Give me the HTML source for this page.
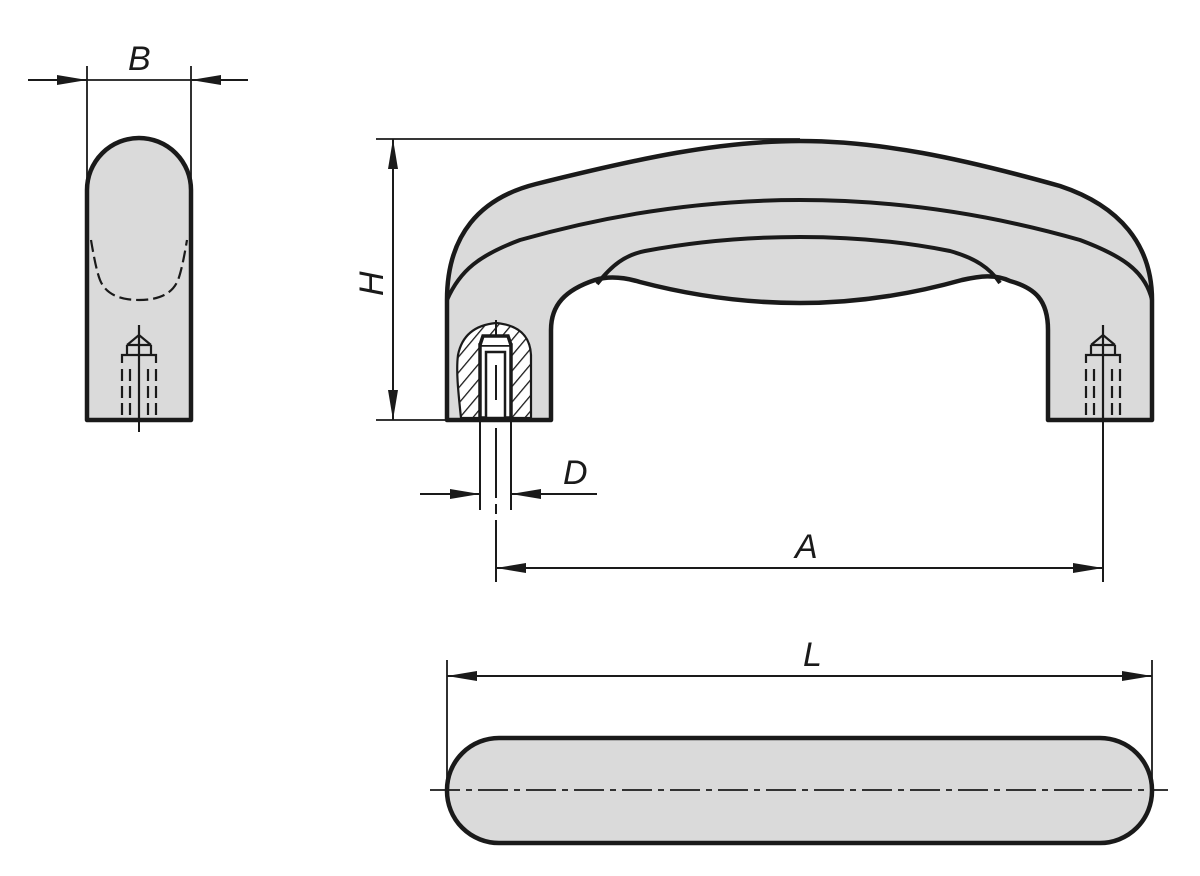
<!DOCTYPE html>
<html><head><meta charset="utf-8"><style>
html,body{margin:0;padding:0;background:#fff}
svg{display:block}
text{font-family:"Liberation Sans",sans-serif;font-style:italic;font-size:34px;fill:#1a1a1a}
</style></head><body>
<svg width="1200" height="876" viewBox="0 0 1200 876" xmlns="http://www.w3.org/2000/svg">
<defs>
<marker id="ar" viewBox="0 0 30 10" refX="30" refY="5" markerWidth="30" markerHeight="10" markerUnits="userSpaceOnUse" orient="auto-start-reverse">
<path d="M0,0 L30,5 L0,10 Z" fill="#1a1a1a"/></marker>
<pattern id="hatch" width="10" height="10" patternUnits="userSpaceOnUse" patternTransform="rotate(40)">
<rect width="10" height="10" fill="#fff"/><line x1="0" y1="0" x2="0" y2="10" stroke="#1a1a1a" stroke-width="2.6"/></pattern>
<g id="thr" fill="none" stroke="#1a1a1a" stroke-width="2.2">
<line x1="0" y1="0" x2="0" y2="95"/>
<path d="M-12,20 L0,10 L12,20 M-12,20 L12,20 M-12,20 V30 M12,20 V30"/>
<path d="M-17,38 V30 H17 V38"/>
<line x1="-17" y1="44" x2="-17" y2="95" stroke-dasharray="12 5"/>
<line x1="17" y1="44" x2="17" y2="95" stroke-dasharray="12 5"/>
<line x1="-9" y1="44" x2="-9" y2="95" stroke-dasharray="12 5"/>
<line x1="9" y1="44" x2="9" y2="95" stroke-dasharray="12 5"/>
</g>
</defs>

<!-- side view -->
<path d="M87,420 V190 A52,52 0 0 1 191,190 V420 Z" fill="#dadada" stroke="#1a1a1a" stroke-width="4.5" stroke-linejoin="round"/>
<path d="M91,240 Q96,270 100,280 Q108,300 139,300 Q170,300 178,280 Q182,270 187,240" fill="none" stroke="#1a1a1a" stroke-width="2.2" stroke-dasharray="12 5"/>
<use href="#thr" x="139" y="325"/>
<line x1="139" y1="418" x2="139" y2="432" stroke="#1a1a1a" stroke-width="2"/>
<line x1="87" y1="66" x2="87" y2="190" stroke="#1a1a1a" stroke-width="1.8"/>
<line x1="191" y1="66" x2="191" y2="190" stroke="#1a1a1a" stroke-width="1.8"/>
<line x1="28" y1="80" x2="87" y2="80" stroke="#1a1a1a" stroke-width="2" marker-end="url(#ar)"/>
<line x1="248" y1="80" x2="191" y2="80" stroke="#1a1a1a" stroke-width="2" marker-end="url(#ar)"/>
<line x1="87" y1="80" x2="191" y2="80" stroke="#1a1a1a" stroke-width="1.8"/>
<text x="128" y="70">B</text>

<!-- main handle -->
<path d="M447,420 V300 C447,235 480,198 536,184 C640,158 720,141 800,141 C880,141 960,158 1060,186 C1120,206 1152,245 1152,300 V420 H1048 V330 C1048,300 1035,288 1010,281 C995,274 980,276 962,280 Q880,303 800,303 Q720,303 640,282 C620,276 605,277 595,280 C565,290 551,305 551,330 V420 Z" fill="#dadada" stroke="#1a1a1a" stroke-width="4.5" stroke-linejoin="round"/>
<path d="M447,300 C460,270 480,255 520,240 Q660,200 800,200 Q940,200 1080,240 C1120,255 1145,270 1152,300" fill="none" stroke="#1a1a1a" stroke-width="4"/>
<path d="M597,284 C612,265 625,255 645,251 Q720,237 800,237 Q880,237 950,251 C975,258 990,268 1000,283" fill="none" stroke="#1a1a1a" stroke-width="4"/>
<!-- section -->
<path d="M461,418 C458,390 456,370 458,355 C462,335 475,325 496,323 C518,325 530,335 531,355 V418 Z" fill="url(#hatch)" stroke="#1a1a1a" stroke-width="2.2"/>
<rect x="480" y="345" width="31" height="73" fill="#fff" stroke="#1a1a1a" stroke-width="3.5"/>
<path d="M480,345 L483,336 H508 L511,345" fill="#fff" stroke="#1a1a1a" stroke-width="3.5"/>
<rect x="486" y="352" width="19" height="66" fill="#fff" stroke="#1a1a1a" stroke-width="2.5"/>
<line x1="496" y1="320" x2="496" y2="336" stroke="#1a1a1a" stroke-width="2"/>
<line x1="496" y1="365" x2="496" y2="400" stroke="#1a1a1a" stroke-width="2"/>
<line x1="496" y1="428" x2="496" y2="582" stroke="#1a1a1a" stroke-width="2" stroke-dasharray="70 6 10 6"/>
<line x1="480" y1="420" x2="480" y2="510" stroke="#1a1a1a" stroke-width="2"/>
<line x1="511" y1="420" x2="511" y2="510" stroke="#1a1a1a" stroke-width="2"/>
<line x1="420" y1="494" x2="480" y2="494" stroke="#1a1a1a" stroke-width="2" marker-end="url(#ar)"/>
<line x1="597" y1="494" x2="511" y2="494" stroke="#1a1a1a" stroke-width="2" marker-end="url(#ar)"/>
<text x="563" y="484">D</text>
<use href="#thr" x="1103" y="325"/>
<line x1="1103" y1="418" x2="1103" y2="582" stroke="#1a1a1a" stroke-width="2"/>
<line x1="496" y1="568" x2="1103" y2="568" stroke="#1a1a1a" stroke-width="2" marker-start="url(#ar)" marker-end="url(#ar)"/>
<text x="795" y="558">A</text>
<!-- H -->
<line x1="376" y1="139" x2="800" y2="139" stroke="#1a1a1a" stroke-width="1.8"/>
<line x1="376" y1="420" x2="447" y2="420" stroke="#1a1a1a" stroke-width="1.8"/>
<line x1="393" y1="139" x2="393" y2="420" stroke="#1a1a1a" stroke-width="2" marker-start="url(#ar)" marker-end="url(#ar)"/>
<text x="0" y="0" transform="translate(383,296) rotate(-90)">H</text>

<!-- bottom view -->
<rect x="447" y="738" width="705" height="105" rx="52" ry="52" fill="#dadada" stroke="#1a1a1a" stroke-width="4.5"/>
<line x1="430" y1="790" x2="1168" y2="790" stroke="#1a1a1a" stroke-width="1.8" stroke-dasharray="30 6 6 6"/>
<line x1="447" y1="660" x2="447" y2="790" stroke="#1a1a1a" stroke-width="1.8"/>
<line x1="1152" y1="660" x2="1152" y2="790" stroke="#1a1a1a" stroke-width="1.8"/>
<line x1="447" y1="676" x2="1152" y2="676" stroke="#1a1a1a" stroke-width="2" marker-start="url(#ar)" marker-end="url(#ar)"/>
<text x="803" y="666">L</text>
</svg>
</body></html>
